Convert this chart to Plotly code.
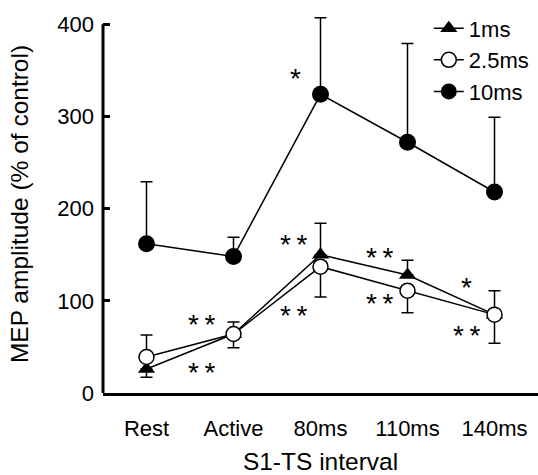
import plotly.graph_objects as go

categories = ["Rest", "Active", "80ms", "110ms", "140ms"]
x_idx = [0, 1, 2, 3, 4]

ms1_mean = [26, 64, 150, 128, 85]
ms1_err_up = [0, 0, 34, 16, 26]
ms1_err_down = [9, 0, 0, 0, 0]

ms25_mean = [39, 64, 137, 111, 85]
ms25_err_up = [24, 13, 0, 0, 0]
ms25_err_down = [0, 15, 33, 24, 31]

ms10_mean = [162, 148, 324, 272, 218]
ms10_err_up = [67, 21, 83, 107, 81]

# significance marks: (x position, y position, text)
sig_x = [0.64, 0.64, 1.69, 1.69, 1.71, 2.68, 2.68, 3.68, 3.68]
sig_y = [80, 28, 167, 89, 347, 152, 102, 120, 68]
sig_text = ["**", "**", "**", "**", "*", "**", "**", "*", "**"]

y_ticks = [0, 100, 200, 300, 400]

FONT = "Liberation Sans, Arial, Helvetica, sans-serif"

fig = go.Figure()

fig.add_trace(go.Scatter(
    x=x_idx, y=ms10_mean, name="10ms", mode="lines+markers",
    line=dict(color="black", width=1.5),
    marker=dict(symbol="circle", size=17, color="black"),
    error_y=dict(type="data", symmetric=False, array=ms10_err_up,
                 arrayminus=[0] * 5, color="black", thickness=1.5, width=6),
))
fig.add_trace(go.Scatter(
    x=x_idx, y=ms1_mean, name="1ms", mode="lines+markers",
    line=dict(color="black", width=1.5),
    marker=dict(symbol="triangle-up", size=15, color="black"),
    error_y=dict(type="data", symmetric=False, array=ms1_err_up,
                 arrayminus=ms1_err_down, color="black", thickness=1.5, width=6),
))
fig.add_trace(go.Scatter(
    x=x_idx, y=ms25_mean, name="2.5ms", mode="lines+markers",
    line=dict(color="black", width=1.5),
    marker=dict(symbol="circle", size=15, color="white",
                line=dict(color="black", width=1.5)),
    error_y=dict(type="data", symmetric=False, array=ms25_err_up,
                 arrayminus=ms25_err_down, color="black", thickness=1.5, width=6),
))

for sx, sy, st in zip(sig_x, sig_y, sig_text):
    fig.add_annotation(x=sx, y=sy, text=st.replace("**", "*\u2009*"), showarrow=False,
                       yshift=-5,
                       font=dict(family=FONT, size=28, color="black"))

# y axis line only up to 400
fig.add_shape(type="line", xref="paper", yref="y", x0=0, x1=0, y0=0, y1=400,
              line=dict(color="black", width=3))

fig.update_layout(
    width=538, height=475,
    margin=dict(l=103, r=0, t=15, b=82),
    paper_bgcolor="white", plot_bgcolor="white",
    font=dict(family=FONT, size=22, color="black"),
    showlegend=True,
    legend=dict(x=0.749, y=1.02, xanchor="left", yanchor="top",
                bgcolor="rgba(0,0,0,0)", font=dict(size=22),
                traceorder="normal", itemsizing="trace"),
    xaxis=dict(range=[-0.5, 4.5], tickmode="array", tickvals=x_idx,
               ticktext=categories, showgrid=False, zeroline=False,
               showline=True, linecolor="black", linewidth=3, ticks="",
               ticklabelstandoff=14, automargin=False,
               title=dict(text="S1-TS interval", font=dict(size=24.5), standoff=17)),
    yaxis=dict(range=[0, 410], tickmode="array", tickvals=y_ticks,
               showgrid=False, zeroline=False, showline=False,
               ticks="inside", ticklen=7, tickwidth=3, tickcolor="black",
               ticklabelstandoff=8, automargin=False,
               title=dict(text="MEP amplitude (% of control)", font=dict(size=24.5), standoff=21)),
)

# legend order: 1ms, 2.5ms, 10ms
fig.data[0].legendrank = 3
fig.data[1].legendrank = 1
fig.data[2].legendrank = 2

fig.write_html("out.html")
